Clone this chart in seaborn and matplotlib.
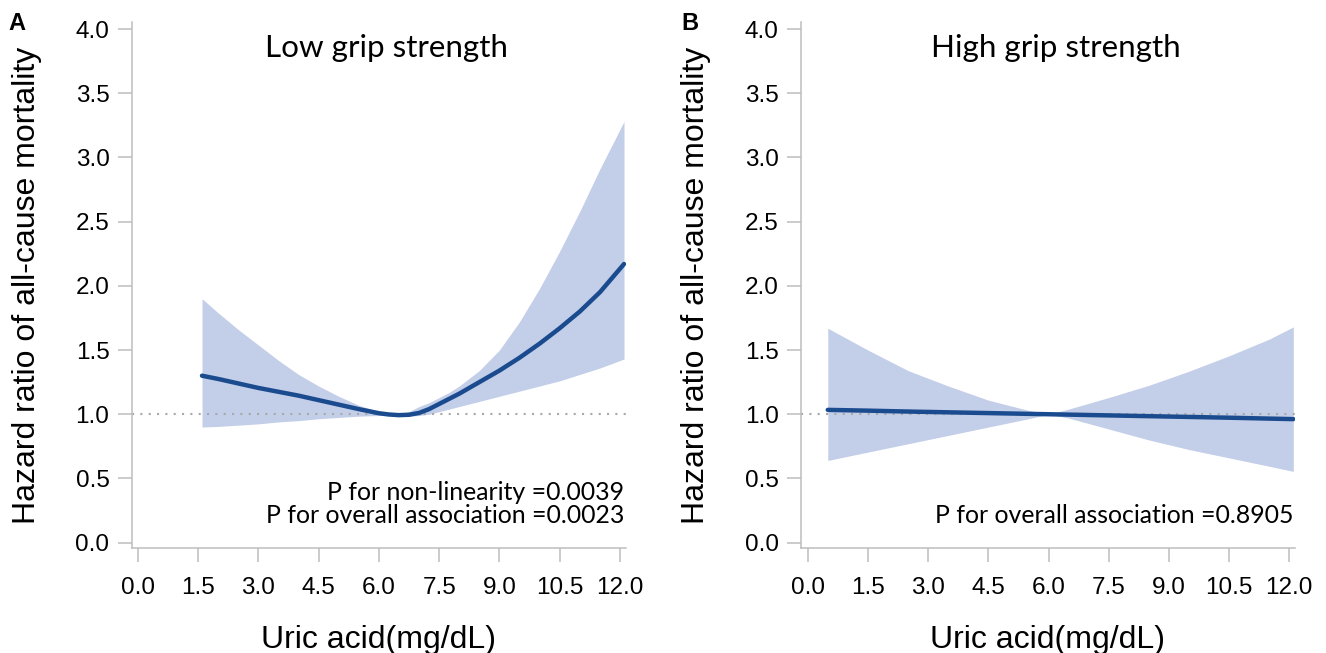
import numpy as np
import pandas as pd
import matplotlib
matplotlib.use("Agg")
import matplotlib.pyplot as plt
import seaborn as sns

# ---------------- data ----------------
# Panel A: Low grip strength
a_x = [1.6, 2.0, 2.5, 3.0, 3.5, 4.0, 4.5, 5.0, 5.5, 6.0, 6.25, 6.5, 6.75, 7.0,
       7.25, 7.5, 7.75, 8.0, 8.5, 9.0, 9.5, 10.0, 10.5, 11.0, 11.5, 12.1]
a_hr = [1.30, 1.275, 1.24, 1.205, 1.175, 1.145, 1.11, 1.075, 1.04, 1.008, 0.998, 0.993, 0.996, 1.01,
        1.04, 1.08, 1.12, 1.16, 1.25, 1.34, 1.44, 1.55, 1.67, 1.80, 1.95, 2.17]
a_upper = [1.90, 1.79, 1.66, 1.54, 1.42, 1.31, 1.22, 1.14, 1.07, 1.02, 1.005, 1.005, 1.02, 1.06,
           1.09, 1.13, 1.17, 1.22, 1.34, 1.50, 1.72, 1.98, 2.27, 2.58, 2.91, 3.28]
a_lower = [0.90, 0.905, 0.915, 0.925, 0.94, 0.95, 0.965, 0.975, 0.985, 0.99, 0.99, 0.985, 0.985, 0.99,
           1.00, 1.02, 1.04, 1.06, 1.10, 1.14, 1.18, 1.22, 1.26, 1.31, 1.36, 1.43]

# Panel B: High grip strength
b_x = [0.5, 1.5, 2.5, 3.5, 4.5, 5.5, 6.0, 6.5, 7.5, 8.5, 9.5, 10.5, 11.5, 12.1]
b_hr = [1.034, 1.028, 1.021, 1.015, 1.009, 1.003, 1.0, 0.997, 0.991, 0.985, 0.979, 0.973, 0.966, 0.962]
b_upper = [1.67, 1.50, 1.34, 1.22, 1.11, 1.03, 1.00, 1.04, 1.13, 1.225, 1.335, 1.455, 1.585, 1.68]
b_lower = [0.64, 0.705, 0.77, 0.835, 0.90, 0.965, 1.00, 0.97, 0.885, 0.80, 0.725, 0.66, 0.595, 0.555]

x_ticks = [0.0, 1.5, 3.0, 4.5, 6.0, 7.5, 9.0, 10.5, 12.0]
y_ticks = [0.0, 0.5, 1.0, 1.5, 2.0, 2.5, 3.0, 3.5, 4.0]
titles = ["Low grip strength", "High grip strength"]
panel_letters = ["A", "B"]
p_texts = ["P for non-linearity =0.0039\nP for overall association =0.0023",
           "P for overall association =0.8905"]
xlabel = "Uric acid(mg/dL)"
ylabel = "Hazard ratio of all-cause mortality"

# ---------------- style ----------------
sns.set_theme(style="ticks")
plt.rcParams["font.family"] = ["Liberation Sans", "DejaVu Sans"]

LINE = "#1B4B8F"
FILL = "#C3CEE8"
GREY = "#BDBDBD"
TXT_FONT = ["Lato", "DejaVu Sans"]

W, H = 1326, 653
fig = plt.figure(figsize=(W / 100, H / 100), dpi=100)

axes_px = [(131.7, 625.7), (801.0, 1295.0)]
top_px, bot_px = 21.7, 548.3
xlims = [(-0.149, 12.142), (-0.167, 12.142)]
ylim = (-0.044, 4.057)
letter_x = [8, 681]

datasets = [(a_x, a_hr, a_lower, a_upper), (b_x, b_hr, b_lower, b_upper)]

for i, (l_px, r_px) in enumerate(axes_px):
    ax = fig.add_axes([l_px / W, 1 - bot_px / H, (r_px - l_px) / W, (bot_px - top_px) / H])
    xs, hr, lo, up = datasets[i]
    df = pd.DataFrame({"x": xs, "hr": hr, "lo": lo, "up": up})
    ax.fill_between(df["x"], df["lo"], df["up"], color=FILL, linewidth=0, zorder=1)
    ax.axhline(1.0, color="#A8A8A8", linestyle=(0, (1, 3)), linewidth=1.5, zorder=2)
    sns.lineplot(data=df, x="x", y="hr", ax=ax, color=LINE, linewidth=3.2, zorder=3,
                 sort=False, estimator=None)
    ax.set_xlim(*xlims[i])
    ax.set_ylim(*ylim)
    ax.set_xticks(x_ticks)
    ax.set_xticklabels([f"{t:.1f}" for t in x_ticks])
    ax.set_yticks(y_ticks)
    ax.set_yticklabels([f"{t:.1f}" for t in y_ticks])
    for s in ["top", "right"]:
        ax.spines[s].set_visible(False)
    for s in ["left", "bottom"]:
        ax.spines[s].set_color(GREY)
        ax.spines[s].set_linewidth(1.1)
    ax.tick_params(axis="both", which="major", direction="out", length=10, width=1.1,
                   color=GREY, labelsize=17.5, labelcolor="black")
    ax.tick_params(axis="x", pad=10.5)
    ax.tick_params(axis="y", pad=6)
    ax.set_xlabel(xlabel, fontsize=23, labelpad=19, color="black")
    ax.set_ylabel(ylabel, fontsize=23, labelpad=24, color="black")
    ax.set_title(titles[i], fontsize=22.6, family=TXT_FONT, pad=-25.4, y=1.0,
                 x=0.515, color="black")
    ax.text(0.997, 0.04, p_texts[i], transform=ax.transAxes, ha="right", va="bottom",
            fontsize=17.9, family=TXT_FONT, linespacing=1.02, color="black")
    fig.text(letter_x[i] / W, 1 - 30 / H, panel_letters[i], fontsize=17,
             fontweight="bold", ha="left", va="baseline", color="black")

fig.savefig("out.png", dpi=100, facecolor="white")
